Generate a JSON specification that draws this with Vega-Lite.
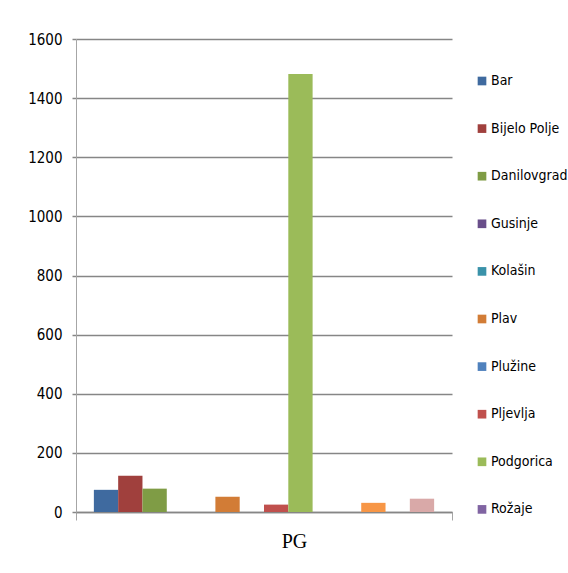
{
  "$schema": "https://vega.github.io/schema/vega-lite/v6.json",
  "autosize": "none",
  "width": 376,
  "height": 473,
  "padding": {"left": 76, "top": 39, "right": 116, "bottom": 61},
  "background": "white",
  "config": {"view": {"stroke": null}},
  "data": {
    "values": [
      {"kategorija": "PG", "opstina": "Bar", "vrijednost": 75},
      {"kategorija": "PG", "opstina": "Bijelo Polje", "vrijednost": 123},
      {"kategorija": "PG", "opstina": "Danilovgrad", "vrijednost": 79},
      {"kategorija": "PG", "opstina": "Gusinje", "vrijednost": 0},
      {"kategorija": "PG", "opstina": "Kolašin", "vrijednost": 0},
      {"kategorija": "PG", "opstina": "Plav", "vrijednost": 52},
      {"kategorija": "PG", "opstina": "Plužine", "vrijednost": 0},
      {"kategorija": "PG", "opstina": "Pljevlja", "vrijednost": 25},
      {"kategorija": "PG", "opstina": "Podgorica", "vrijednost": 1482},
      {"kategorija": "PG", "opstina": "Rožaje", "vrijednost": 0},
      {"kategorija": "PG", "opstina": "Šavnik", "vrijednost": 0},
      {"kategorija": "PG", "opstina": "Tivat", "vrijednost": 31},
      {"kategorija": "PG", "opstina": "Ulcinj", "vrijednost": 0},
      {"kategorija": "PG", "opstina": "Žabljak", "vrijednost": 45}
    ]
  },
  "mark": {"type": "bar"},
  "encoding": {
    "x": {
      "field": "kategorija",
      "type": "nominal",
      "scale": {"paddingInner": 0, "paddingOuter": 0},
      "axis": {
        "title": null,
        "labelAngle": 0,
        "tickBand": "extent",
        "tickSize": 8,
        "tickColor": "#a6a6a6",
        "tickWidth": 1,
        "domainColor": "#868686",
        "domainWidth": 1.5,
        "labelFont": "Liberation Serif",
        "labelFontSize": 20,
        "labelColor": "#000000",
        "labelPadding": 11,
        "labelOffset": 30
      }
    },
    "xOffset": {
      "field": "opstina",
      "type": "nominal",
      "sort": null,
      "scale": {"paddingInner": 0, "paddingOuter": 0.735}
    },
    "y": {
      "field": "vrijednost",
      "type": "quantitative",
      "scale": {"domain": [0, 1600], "nice": false},
      "axis": {
        "title": null,
        "format": "d",
        "values": [0, 200, 400, 600, 800, 1000, 1200, 1400, 1600],
        "grid": true,
        "gridColor": "#868686",
        "gridWidth": 1.5,
        "tickSize": 4,
        "tickColor": "#868686",
        "tickWidth": 1.5,
        "domainColor": "#a6a6a6",
        "domainWidth": 1,
        "labelFont": "'DejaVu Sans Condensed', Roboto, sans-serif",
        "labelFontSize": 15,
        "labelColor": "#000000",
        "labelPadding": 10
      }
    },
    "color": {
      "field": "opstina",
      "type": "nominal",
      "sort": null,
      "scale": {
        "domain": ["Bar", "Bijelo Polje", "Danilovgrad", "Gusinje", "Kolašin", "Plav", "Plužine", "Pljevlja", "Podgorica", "Rožaje", "Šavnik", "Tivat", "Ulcinj", "Žabljak"],
        "range": ["#3F6A9F", "#A0403D", "#7F9C45", "#694E8A", "#3A92A9", "#D27C36", "#4F81BD", "#C0504D", "#9BBB59", "#8064A2", "#4BACC6", "#F79646", "#95B3D7", "#D9A9A8"]
      },
      "legend": {
        "title": null,
        "orient": "none",
        "legendX": 399,
        "legendY": 35,
        "values": ["Bar", "Bijelo Polje", "Danilovgrad", "Gusinje", "Kolašin", "Plav", "Plužine", "Pljevlja", "Podgorica", "Rožaje"],
        "symbolType": "square",
        "symbolSize": 75,
        "symbolStrokeWidth": 0,
        "labelFont": "'DejaVu Sans Condensed', Roboto, sans-serif",
        "labelFontSize": 14,
        "labelColor": "#000000",
        "labelOffset": 2,
        "labelLimit": 0,
        "rowPadding": 33.6,
        "padding": 0
      }
    }
  }
}
